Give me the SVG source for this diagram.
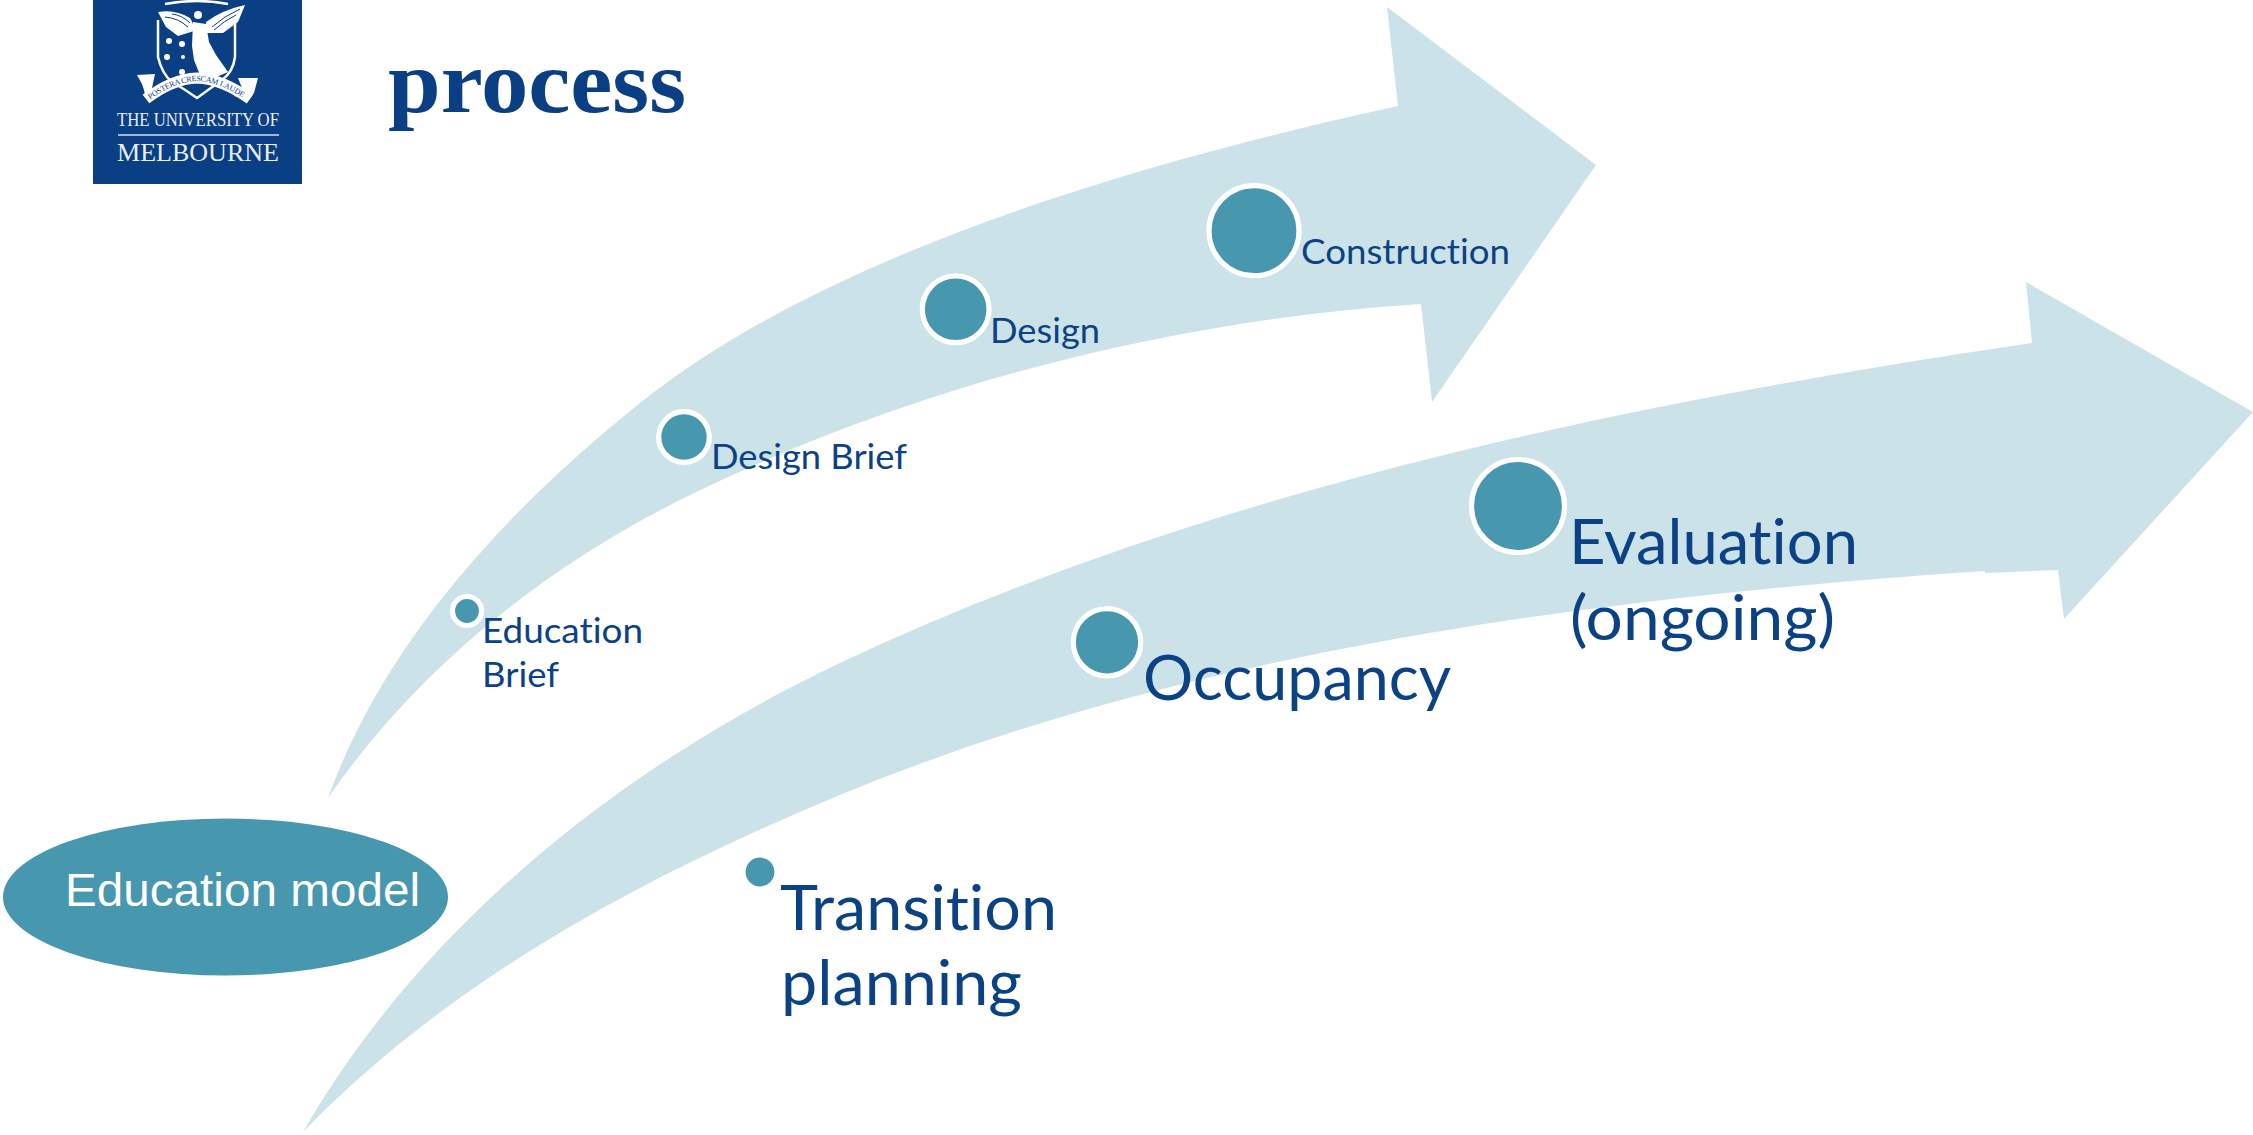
<svg xmlns="http://www.w3.org/2000/svg" width="2253" height="1135" viewBox="0 0 2253 1135">
<style>
.arrow{fill:#cbe2e9}
.dot{fill:#4797af;stroke:#fff;stroke-width:5.200}
.lb{font-family:Lato,"Open Sans",sans-serif;fill:#0b4285;font-variant-ligatures:none}
.s{font-size:34px}.b{font-size:61px}
.w{fill:#fff}.wl{fill:none;stroke:#fff;stroke-width:2.500}
.nl{fill:none;stroke:#0b3f84;stroke-width:1}
.lg{font-family:"Liberation Serif",serif;fill:#e8eef6}
</style>
<defs><path id="motto-path" d="M146 99Q172 79 197 78Q222 79 250 99"/></defs>
<rect width="2253" height="1135" fill="#fff"/>
<g id="connectors">
<path id="arrow-upper" class="arrow" d="M328 798C385 640 509 508 640 403C825 255 1133 164 1398 106L1387 7L1596 165L1432 402L1421 304C1166 320 905 388 680 500C540 570 415 672 328 798Z"/>
<path id="arrow-lower" class="arrow" d="M303 1132C422 925 624 765 840 663C1205 491 1625 403 2032 343L2026 282L2253 412L2064 619L2058 570L1985 573L1985 571C1597 597 1190 650 840 795C642 877 450 980 303 1132Z"/>
</g>
<g id="logo">
<rect x="93" width="209" height="184" fill="#0b3f84"/>
<path class="wl" d="M165 4Q197 -2 228 4"/>
<path class="wl" d="M158 20L158 57Q162 74 172 82Q186 90 197 98Q208 90 222 80Q233 72 235 57L235 20"/>
<path class="w" d="M158 12Q175 9 190 18Q194 24 194 31L178 36L166 27Z"/>
<path class="w" d="M245 5Q222 10 206 22L206 33L223 33L238 22Z"/>
<circle class="w" cx="198" cy="15" r="4"/>
<path class="w" d="M193 22L206 24L209 42L216 55L228 72L214 78L200 75L194 60L192 46Z"/>
<path class="nl" d="M165 17Q178 18 188 27M172 14Q182 15 190 23M240 9Q224 16 212 27M236 15Q224 21 214 30"/>
<path class="w" d="M137 75L155 74L152 88L160 96L146 99L144 90L142 84Z"/>
<path class="w" d="M238 78L258 78L254 93L248 99L234 96L242 88Z"/>
<path d="M146 99Q172 79 197 78Q222 79 250 99" fill="none" stroke="#fff" stroke-width="11"/>
<text font-family="Liberation Serif,serif" font-size="8" fill="#0b3f84" dy="3"><textPath href="#motto-path" startOffset="3" textLength="104">POSTERA CRESCAM LAUDE</textPath></text>
<circle class="w" cx="169" cy="41" r="3"/><circle class="w" cx="182" cy="44" r="3"/><circle class="w" cx="167" cy="57" r="3"/><circle class="w" cx="183" cy="57" r="2"/><circle class="w" cx="182" cy="72" r="3"/>
<rect x="118" y="134" width="161" height="2" fill="#9fb6d3"/>
<text class="lg" x="117" y="126" font-size="19" textLength="162" lengthAdjust="spacingAndGlyphs">THE UNIVERSITY OF</text>
<text class="lg" x="117" y="161" font-size="26" textLength="162" lengthAdjust="spacingAndGlyphs">MELBOURNE</text>
</g>
<g id="title"><text x="388" y="112" font-family="Liberation Serif,serif" font-weight="700" font-size="88" fill="#0b3f84" textLength="298" lengthAdjust="spacingAndGlyphs">process</text></g>
<g id="node-education-model"><ellipse cx="225.500" cy="897" rx="222.500" ry="78.500" fill="#4797af"/>
<text x="65" y="906" font-family="Liberation Sans,sans-serif" font-size="47" fill="#fff" textLength="355" lengthAdjust="spacingAndGlyphs">Education model</text></g>
<g id="node-education-brief"><circle class="dot" cx="467" cy="611" r="14.500"/><text class="lb s" x="482" y="643" textLength="161" lengthAdjust="spacingAndGlyphs">Education</text><text class="lb s" x="482" y="687" textLength="77" lengthAdjust="spacingAndGlyphs">Brief</text></g>
<g id="node-design-brief"><circle class="dot" cx="684" cy="437" r="25.300"/><text class="lb s" x="711" y="469" textLength="196" lengthAdjust="spacingAndGlyphs">Design Brief</text></g>
<g id="node-design"><circle class="dot" cx="955.700" cy="309.300" r="33.400"/><text class="lb s" x="990" y="343" textLength="110" lengthAdjust="spacingAndGlyphs">Design</text></g>
<g id="node-construction"><circle class="dot" cx="1254" cy="230.700" r="45"/><text class="lb s" x="1301" y="264" textLength="209" lengthAdjust="spacingAndGlyphs">Construction</text></g>
<g id="node-transition"><circle class="dot" cx="760" cy="872" r="17"/><text class="lb b" x="780" y="930" textLength="277" lengthAdjust="spacingAndGlyphs">Transition</text><text class="lb b" x="781" y="1005" textLength="241" lengthAdjust="spacingAndGlyphs">planning</text></g>
<g id="node-occupancy"><circle class="dot" cx="1107" cy="642.300" r="33.700"/><text class="lb b" x="1143" y="700" textLength="308" lengthAdjust="spacingAndGlyphs">Occupancy</text></g>
<g id="node-evaluation"><circle class="dot" cx="1518" cy="506" r="46.500"/><text class="lb b" x="1569" y="564" textLength="289" lengthAdjust="spacingAndGlyphs">Evaluation</text><text class="lb b" x="1570" y="640" textLength="265" lengthAdjust="spacingAndGlyphs">(ongoing)</text></g>
</svg>
